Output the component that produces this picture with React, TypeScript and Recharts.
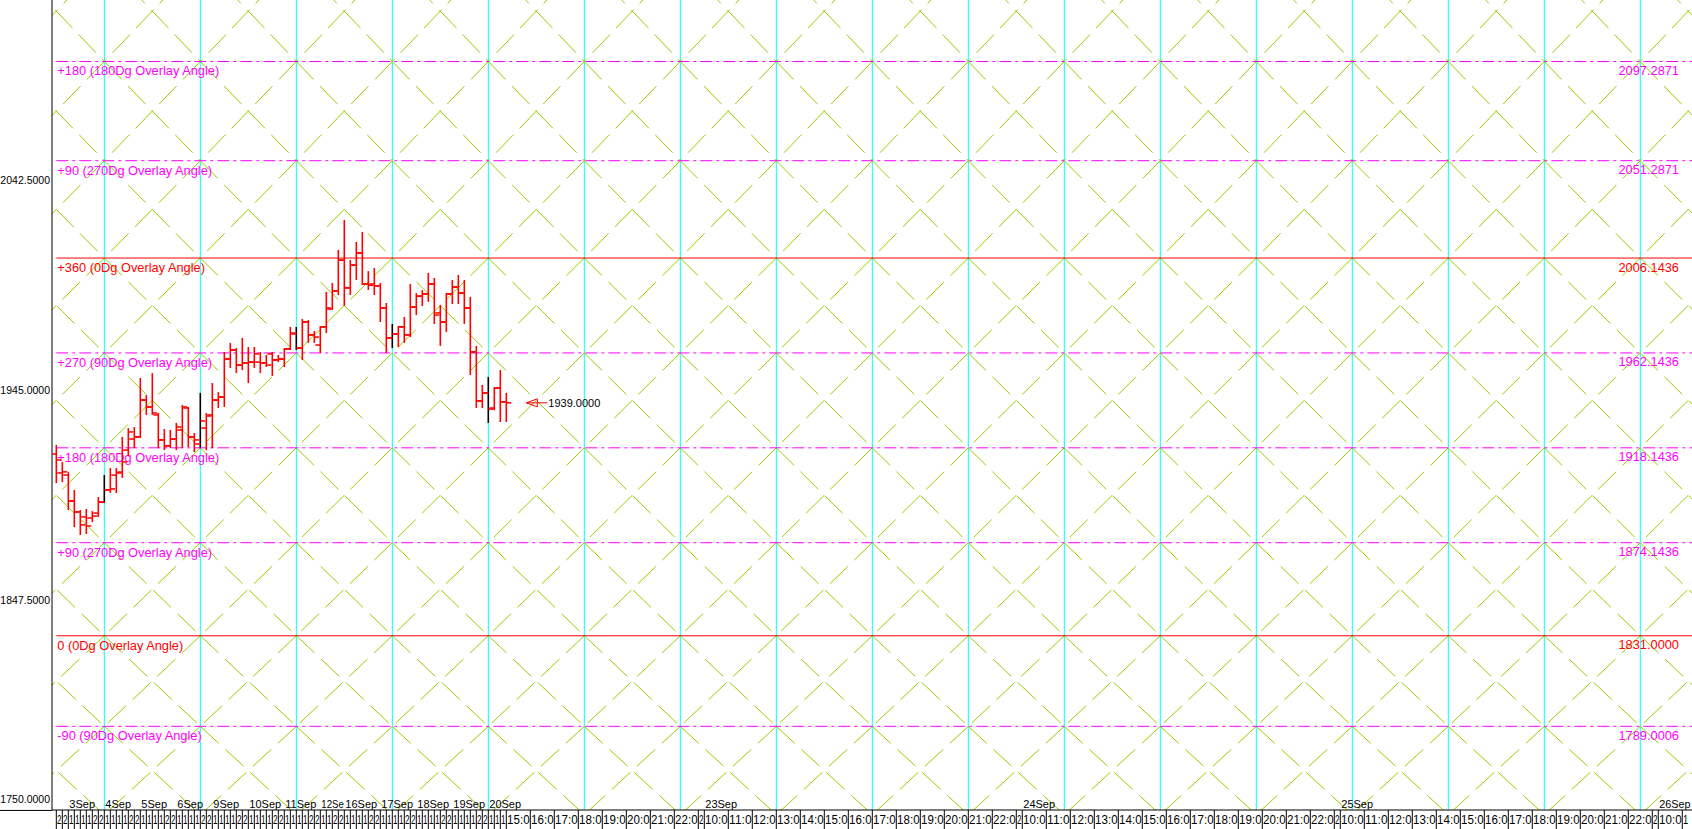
import React from "react";
import {
  ComposedChart,
  Bar,
  XAxis,
  YAxis,
  ReferenceLine,
  ReferenceDot,
} from "recharts";

const W = 1692;
const H = 829;
const AXIS_W = 52;
const AXIS_H = 19;
const FONT = "'Liberation Sans', Arial, sans-serif";

// x is counted in time slots, y in price
const X_MIN = -0.72;
const X_MAX = 272.62;
const Y_MIN = 1750.2;
const Y_MAX = 2125.8;
const PX_PER_SLOT = (W - AXIS_W) / (X_MAX - X_MIN);

// one OHLC bar per slot, starting at slot 0
const opens = [
  1915.3, 1906.5, 1905.5, 1893.5, 1888.4, 1886.1, 1885.6, 1887.9, 1893.0, 1898.6,
  1905.5, 1906.9, 1917.1, 1922.2, 1923.2, 1940.3, 1937.1, 1933.4, 1921.8, 1919.0,
  1922.2, 1926.4, 1936.6, 1923.2, 1919.9, 1927.3, 1933.4, 1940.3, 1941.7, 1959.3,
  1963.5, 1956.5, 1957.5, 1957.9, 1957.9, 1957.5, 1961.7, 1958.9, 1959.3, 1964.0,
  1970.9, 1964.4, 1976.5, 1970.5, 1965.8, 1974.2, 1982.5, 1990.9, 2005.2, 1992.3,
  2002.9, 2008.5, 1994.1, 1994.1, 1993.2, 1983.0, 1969.1, 1970.9, 1974.2, 1970.5,
  1983.4, 1988.5, 1989.5, 1994.1, 1980.7, 1976.5, 1989.5, 1992.7, 1989.9, 1983.0,
  1962.6, 1939.9, 1943.6, 1936.6, 1945.9, 1939.4,
];
const highs = [
  1919.5, 1911.6, 1906.9, 1898.6, 1889.3, 1889.8, 1888.8, 1895.3, 1905.5, 1908.8,
  1908.8, 1923.2, 1927.3, 1927.8, 1950.5, 1942.6, 1952.8, 1934.3, 1926.9, 1926.4,
  1929.7, 1938.0, 1937.1, 1925.0, 1943.6, 1934.3, 1948.2, 1944.0, 1962.6, 1966.8,
  1964.4, 1969.1, 1964.9, 1964.9, 1962.6, 1961.2, 1962.6, 1961.2, 1964.4, 1974.2,
  1974.2, 1977.9, 1977.4, 1972.3, 1974.6, 1990.4, 1994.6, 2009.9, 2023.8, 2005.2,
  2013.6, 2018.2, 2000.1, 2001.5, 1994.6, 1985.3, 1975.6, 1974.6, 1978.8, 1994.1,
  1989.9, 1991.3, 1999.2, 1996.9, 1984.4, 1989.9, 1996.0, 1998.3, 1996.0, 1988.1,
  1965.4, 1947.3, 1951.0, 1946.3, 1954.2, 1943.6,
];
const lows = [
  1901.8, 1902.3, 1889.3, 1881.4, 1877.7, 1878.2, 1883.7, 1886.1, 1892.6, 1897.2,
  1897.2, 1904.2, 1914.3, 1918.0, 1922.7, 1933.4, 1933.4, 1918.0, 1917.1, 1918.0,
  1917.1, 1918.0, 1918.5, 1916.2, 1918.0, 1917.1, 1918.0, 1936.6, 1937.1, 1955.2,
  1952.8, 1954.2, 1948.2, 1955.2, 1952.8, 1955.6, 1951.5, 1957.9, 1955.6, 1963.5,
  1963.5, 1958.9, 1966.8, 1966.8, 1962.1, 1971.4, 1982.1, 1989.0, 1983.9, 1989.0,
  1996.0, 1993.6, 1991.3, 1989.0, 1976.5, 1962.1, 1964.4, 1964.9, 1966.8, 1969.5,
  1979.7, 1983.9, 1985.8, 1975.6, 1965.4, 1971.9, 1984.8, 1984.8, 1975.6, 1951.9,
  1936.6, 1936.6, 1929.7, 1935.5, 1930.1, 1930.1,
];
const closes = [
  1912.5, 1907.0, 1893.5, 1888.4, 1882.4, 1881.9, 1886.5, 1893.0, 1898.6, 1899.1,
  1906.5, 1911.6, 1925.5, 1923.2, 1940.3, 1937.1, 1934.3, 1921.8, 1919.0, 1922.2,
  1927.8, 1937.1, 1923.2, 1921.8, 1930.6, 1932.9, 1940.3, 1941.7, 1959.3, 1963.5,
  1956.5, 1957.5, 1957.9, 1961.7, 1957.5, 1956.5, 1958.9, 1959.3, 1964.0, 1971.4,
  1964.4, 1976.5, 1970.5, 1969.5, 1974.2, 1983.0, 1990.9, 2005.2, 1992.3, 2002.9,
  2008.5, 1994.1, 1993.5, 1993.2, 1983.0, 1969.1, 1970.9, 1974.2, 1970.5, 1983.4,
  1988.5, 1989.5, 1994.1, 1979.7, 1976.5, 1989.5, 1992.7, 1989.9, 1983.0, 1962.6,
  1939.9, 1943.6, 1936.1, 1945.8, 1939.4, 1939.0,
];
const lastPrice = 1939.0;

// cyan time-cycle lines
const cycleSlots = [8, 24, 40, 56, 72, 88, 104, 120, 136, 152, 168, 184, 200, 216, 232, 248, 264];

// overlay angle levels
const levelPrices = [2097.2871, 2051.2871, 2006.1436, 1962.1436, 1918.1436, 1874.1436, 1831.0, 1789.0006];
const levelNames = [
  "+180 (180Dg Overlay Angle)",
  "+90 (270Dg Overlay Angle)",
  "+360 (0Dg Overlay Angle)",
  "+270 (90Dg Overlay Angle)",
  "+180 (180Dg Overlay Angle)",
  "+90 (270Dg Overlay Angle)",
  "0 (0Dg Overlay Angle)",
  "-90 (90Dg Overlay Angle)",
];
const levelIsMain = [false, false, true, false, false, false, true, false];

// diamond lattice rows (levels plus one step beyond each end) and columns
const gridLevels = [1748.0, 1789.0006, 1831.0, 1874.1436, 1918.1436, 1962.1436, 2006.1436, 2051.2871, 2097.2871, 2144.0];
const gridColumns = [-8, 8, 24, 40, 56, 72, 88, 104, 120, 136, 152, 168, 184, 200, 216, 232, 248, 264, 280];

const yTicks = [1750, 1847.5, 1945, 2042.5];

// time axis
const barTimesByDay = [
  ["20:00", "22:00"],
  ["10:00", "12:00", "14:00", "16:00", "20:00", "22:00"],
  ["10:00", "12:00", "14:00", "16:00", "20:00", "22:00"],
  ["10:00", "12:00", "14:00", "16:00", "20:00", "22:00"],
  ["10:00", "12:00", "14:00", "16:00", "20:00", "22:00"],
  ["10:00", "12:00", "14:00", "16:00", "20:00", "22:00"],
  ["10:00", "12:00", "14:00", "16:00", "20:00", "22:00"],
  ["10:00", "12:00", "14:00", "16:00", "20:00", "22:00"],
  ["10:00", "12:00", "20:00", "22:00"],
  ["10:00", "12:00", "14:00", "16:00", "20:00", "22:00"],
  ["10:00", "12:00", "14:00", "16:00", "20:00", "22:00"],
  ["10:00", "12:00", "14:00", "16:00", "20:00", "22:00"],
  ["10:00", "12:00", "14:00", "16:00", "20:00", "22:00"],
  ["10:00", "12:00", "14:00"],
];
const futureHoursByDay = [
  ["15:00", "16:00", "17:00", "18:00", "19:00", "20:00", "21:00", "22:00", "23:00"],
  ["10:00", "11:00", "12:00", "13:00", "14:00", "15:00", "16:00", "17:00", "18:00", "19:00", "20:00", "21:00", "22:00", "23:00"],
  ["10:00", "11:00", "12:00", "13:00", "14:00", "15:00", "16:00", "17:00", "18:00", "19:00", "20:00", "21:00", "22:00", "23:00"],
  ["10:00", "11:00", "12:00", "13:00", "14:00", "15:00", "16:00", "17:00", "18:00", "19:00", "20:00", "21:00", "22:00", "23:00"],
  ["10:00", "11:00", "12:00"],
];
const dayNames = ["3Sep", "4Sep", "5Sep", "6Sep", "9Sep", "10Sep", "11Sep", "12Sep", "16Sep", "17Sep", "18Sep", "19Sep", "20Sep", "23Sep", "24Sep", "25Sep", "26Sep"];
const dayStartSlots = [2, 8, 14, 20, 26, 32, 38, 44, 48, 54, 60, 66, 72, 108, 161, 214, 267];

type Cell = { slot: number; label: string; span: number };
const cells: Cell[] = [];
let slotCursor = 0;
barTimesByDay.forEach((times) =>
  times.forEach((t) => {
    cells.push({ slot: slotCursor, label: t, span: 1 });
    slotCursor += 1;
  })
);
futureHoursByDay.forEach((hours) =>
  hours.forEach((h) => {
    const span = h === "23:00" ? 1 : 4;
    cells.push({ slot: slotCursor, label: h, span });
    slotCursor += span;
  })
);
const cellBySlot = new Map(cells.map((c) => [c.slot, c]));
const dayBySlot = new Map(
  dayNames.map((d, i) => [
    dayStartSlots[i],
    { name: d, span: (dayStartSlots[i + 1] ?? X_MAX + 10) - dayStartSlots[i] },
  ])
);

const data = opens.map((o, i) => ({
  slot: i,
  range: [lows[i], highs[i]],
  open: o,
  high: highs[i],
  low: lows[i],
  close: closes[i],
  cycle: cycleSlots.includes(i),
}));

// the platform cuts labels at the cell edge; keep the part that shows
function fitLabel(label: string, avail: number, fontSize: number) {
  const charW = (ch: string) =>
    (ch === ":" || ch === "." ? 0.278 : ch === "S" ? 0.667 : 0.556) * fontSize;
  let text = "";
  let width = 0;
  for (const ch of label) {
    const next = width + charW(ch);
    if (next > avail + 3.5 && text.length > 0) break;
    text += ch;
    width = next;
    if (next > avail) break;
  }
  return { text, squeeze: width > avail ? Math.max(avail, 1) : undefined };
}

function OhlcShape(props: any) {
  const { x, y, width, height } = props;
  const p = props.payload ?? props;
  if (x == null || y == null) return null;
  const cx = x + width / 2;
  const span = p.high - p.low || 1;
  const yOpen = y + ((p.high - p.open) / span) * height;
  const yClose = y + ((p.high - p.close) / span) * height;
  return (
    <g>
      <line x1={cx} y1={y} x2={cx} y2={y + height} stroke={p.cycle ? "#000" : "#ff0000"} strokeWidth={1.6} />
      <line x1={cx - 5} y1={yOpen} x2={cx} y2={yOpen} stroke="#ff0000" strokeWidth={1.5} />
      <line x1={cx} y1={yClose} x2={cx + 5} y2={yClose} stroke="#ff0000" strokeWidth={1.5} />
    </g>
  );
}

function LevelLabel(props: any) {
  const { viewBox, name, price, color } = props;
  if (!viewBox) return null;
  return (
    <g fontFamily={FONT} fontSize={12.8} fill={color}>
      <text x={viewBox.x + 1} y={viewBox.y + 14}>{name}</text>
      <text x={viewBox.x + viewBox.width - 13} y={viewBox.y + 13.5} textAnchor="end">
        {price.toFixed(4)}
      </text>
    </g>
  );
}

function PriceTick(props: any) {
  const { x, y, payload } = props;
  const isBottom = payload.value === yTicks[0];
  return (
    <g>
      {isBottom && <line x1={0} y1={y} x2={x + 2} y2={y} stroke="#000" />}
      <text x={x} y={isBottom ? y - 11 : y} dy={4} textAnchor="end" fontFamily={FONT} fontSize={10.5} fill="#000">
        {payload.value.toFixed(4)}
      </text>
    </g>
  );
}

function TimeTick(props: any) {
  const { x, y, payload } = props;
  const cell = cellBySlot.get(payload.value);
  if (!cell) return null;
  const day = dayBySlot.get(payload.value);
  const w = Math.min(cell.span * PX_PER_SLOT, W - x - 3);
  const t = fitLabel(cell.label, w - 1.5, 12);
  const dw = day ? Math.min(day.span * PX_PER_SLOT, W - x - 1) : 0;
  const d = day ? fitLabel(day.name, dw - 1.5, 11) : null;
  return (
    <g fontFamily={FONT} fill="#000">
      <line x1={x} y1={y} x2={x} y2={y + AXIS_H} stroke="#000" />
      <text
        x={x + 0.8}
        y={y + 14}
        fontSize={12}
        fill="#000"
        textLength={t.squeeze}
        lengthAdjust={t.squeeze ? "spacingAndGlyphs" : undefined}
      >
        {t.text}
      </text>
      {d && (
        <text
          x={x + 1}
          y={y - 2.5}
          fontSize={11}
          fill="#000"
          textLength={d.squeeze}
          lengthAdjust={d.squeeze ? "spacingAndGlyphs" : undefined}
        >
          {d.text}
        </text>
      )}
    </g>
  );
}

function LastPriceMarker(props: any) {
  const { cx, cy } = props;
  if (cx == null || cy == null) return null;
  const tip = cx + 20;
  return (
    <g>
      <line x1={tip} y1={cy} x2={tip + 21} y2={cy} stroke="#ff0000" />
      <polygon points={`${tip},${cy} ${tip + 11},${cy - 4} ${tip + 11},${cy + 4}`} fill="none" stroke="#ff0000" />
      <text x={tip + 22} y={cy + 4} fontFamily={FONT} fontSize={11} fill="#000">
        {lastPrice.toFixed(4)}
      </text>
    </g>
  );
}

export default function App() {
  const diagonals: React.ReactNode[] = [];
  for (let c = 0; c < gridColumns.length - 1; c++) {
    for (let r = 0; r < gridLevels.length - 1; r++) {
      const x0 = gridColumns[c];
      const x1 = gridColumns[c + 1];
      const lo = gridLevels[r];
      const hi = gridLevels[r + 1];
      diagonals.push(
        <ReferenceLine
          key={`d1-${c}-${r}`}
          segment={[{ x: x0, y: hi }, { x: x1, y: lo }]}
          stroke="#99cc00"
          strokeDasharray="25 9"
          ifOverflow="hidden"
        />,
        <ReferenceLine
          key={`d2-${c}-${r}`}
          segment={[{ x: x1, y: hi }, { x: x0, y: lo }]}
          stroke="#99cc00"
          strokeDasharray="25 9"
          ifOverflow="hidden"
        />
      );
    }
  }

  return (
    <div style={{ position: "absolute", left: 0, top: 0, width: W, height: H, background: "#fff" }}>
      <ComposedChart width={W} height={H} data={data} margin={{ top: 0, right: 0, bottom: 0, left: 0 }}>
        <XAxis
          type="number"
          dataKey="slot"
          domain={[X_MIN, X_MAX]}
          allowDataOverflow
          ticks={cells.map((c) => c.slot)}
          interval={0}
          height={AXIS_H}
          tickSize={0}
          tickMargin={0}
          tickLine={false}
          axisLine={{ stroke: "#000" }}
          tick={<TimeTick />}
        />
        <YAxis
          type="number"
          domain={[Y_MIN, Y_MAX]}
          allowDataOverflow
          ticks={yTicks}
          interval={0}
          width={AXIS_W}
          tickSize={0}
          tickMargin={2}
          tickLine={false}
          axisLine={{ stroke: "#000" }}
          tick={<PriceTick />}
        />
        {cycleSlots.map((s) => (
          <ReferenceLine key={`c-${s}`} x={s} stroke="#00ffff" ifOverflow="hidden" />
        ))}
        {diagonals}
        {levelPrices.map((p, i) => {
          const color = levelIsMain[i] ? "#ff0000" : "#ff00ff";
          return (
            <ReferenceLine
              key={`l-${i}`}
              segment={[{ x: 0, y: p }, { x: X_MAX, y: p }]}
              stroke={color}
              strokeDasharray={levelIsMain[i] ? undefined : "12 4 3 4"}
              ifOverflow="visible"
              label={<LevelLabel name={levelNames[i]} price={p} color={color} />}
            />
          );
        })}
        <Bar
          dataKey="range"
          barSize={4}
          shape={<OhlcShape />}
          isAnimationActive={false}
          zIndex={1000}
        />
        <ReferenceDot
          x={data.length - 1}
          y={lastPrice}
          r={3}
          shape={<LastPriceMarker />}
          ifOverflow="visible"
        />
      </ComposedChart>
    </div>
  );
}
